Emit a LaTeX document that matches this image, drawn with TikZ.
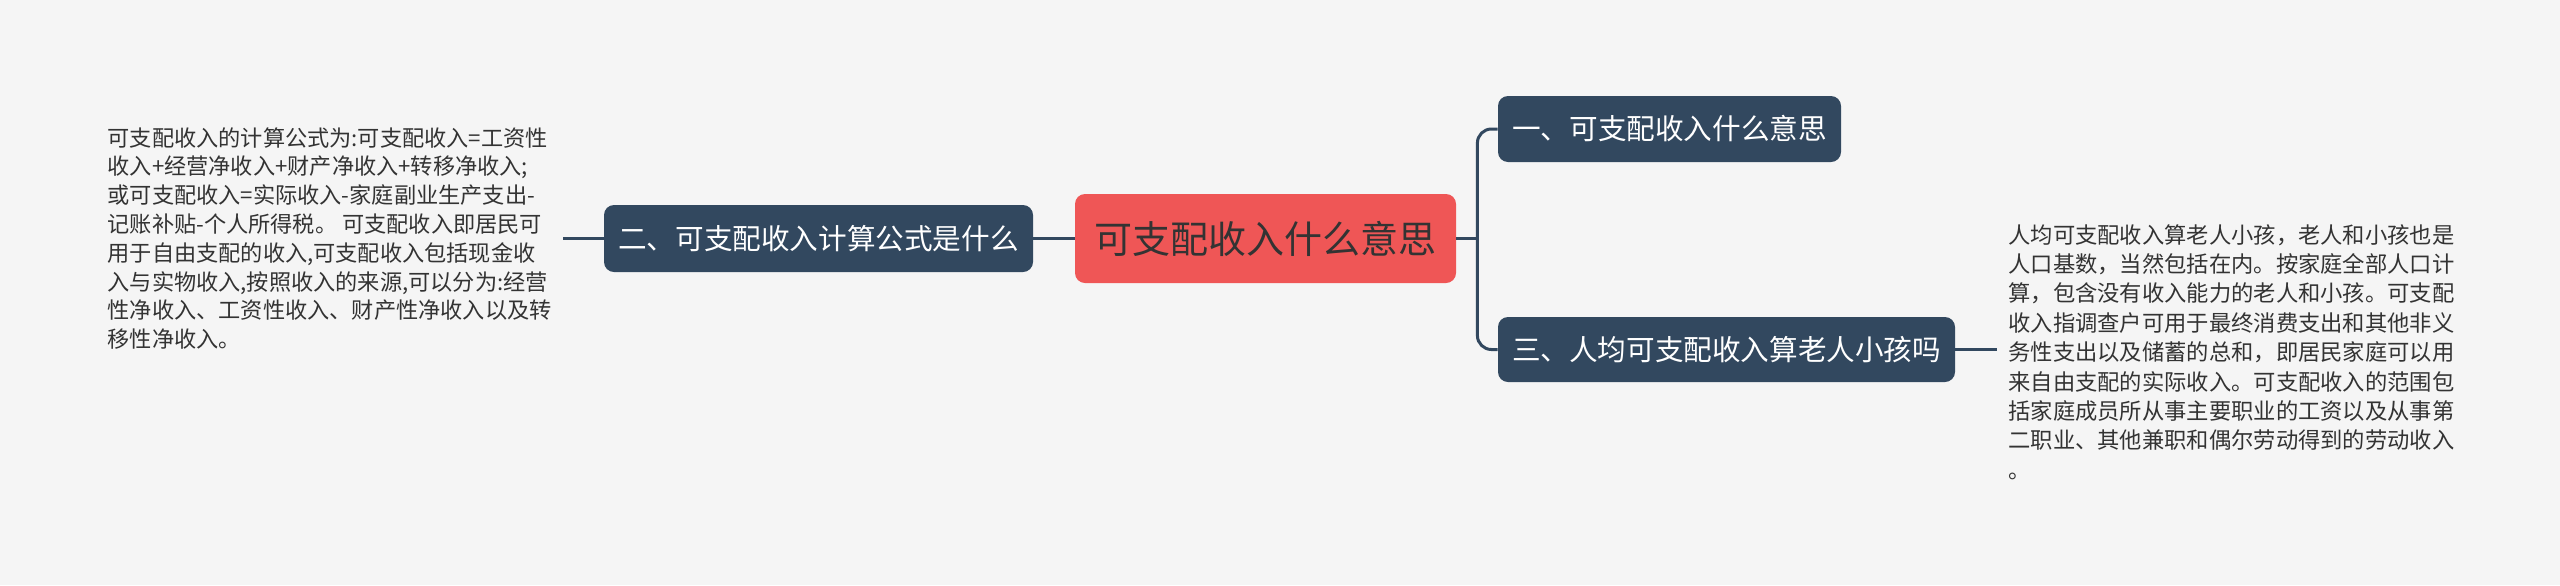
\documentclass[tikz,border=0pt]{standalone}
\usepackage{fontspec}
\setmainfont{Noto Sans CJK SC}
\usepackage{tikz}
\usetikzlibrary{positioning,calc}
\usepackage{xcolor}
\definecolor{bggrey}{HTML}{F5F5F5}
\definecolor{slate}{HTML}{32485F}
\definecolor{rootred}{HTML}{EF5656}
\definecolor{txtdark}{HTML}{333333}

\begin{document}
\begin{tikzpicture}[x=0.5pt,y=-0.5pt,
  topic/.style={fill=slate,rounded corners=5pt,text=white,inner sep=0pt,
    font=\fontsize{14.3pt}{17pt}\selectfont},
  rootbox/.style={fill=rootred,rounded corners=5pt,text=txtdark,inner sep=0pt,
    minimum width=190.5pt,minimum height=44.5pt,font=\fontsize{19pt}{22pt}\selectfont},
  note/.style={text=txtdark,align=left,inner sep=5.5pt},
  link/.style={draw=slate,line width=1.5pt}]
\fill[bggrey] (0,0) rectangle (2560,585);
% centre
\node[rootbox] (root) at (1265.5,238.5) {可支配收入什么意思};
% left branch
\node[topic,minimum width=214.5pt,minimum height=33.5pt] (two) at (818.5,238.5) {二、可支配收入计算公式是什么};
\node[note,anchor=east,font=\fontsize{11.1pt}{14.4pt}\selectfont] (twotxt) at (563,238.5)
  {可支配收入的计算公式为:可支配收入=工资性\\
   收入+经营净收入+财产净收入+转移净收入;\\
   或可支配收入=实际收入-家庭副业生产支出-\\
   记账补贴-个人所得税。 可支配收入即居民可\\
   用于自由支配的收入,可支配收入包括现金收\\
   入与实物收入,按照收入的来源,可以分为:经营\\
   性净收入、工资性收入、财产性净收入以及转\\
   移性净收入。};
% right branches
\node[topic,minimum width=171.5pt,minimum height=33pt] (one) at (1669.5,129) {一、可支配收入什么意思};
\node[topic,minimum width=228.5pt,minimum height=32.5pt] (three) at (1726.5,349.5) {三、人均可支配收入算老人小孩吗};
\node[note,anchor=west,font=\fontsize{11.15pt}{14.7pt}\selectfont] (threetxt) at (1997,352)
  {人均可支配收入算老人小孩，老人和小孩也是\\
   人口基数，当然包括在内。按家庭全部人口计\\
   算，包含没有收入能力的老人和小孩。可支配\\
   收入指调查户可用于最终消费支出和其他非义\\
   务性支出以及储蓄的总和，即居民家庭可以用\\
   来自由支配的实际收入。可支配收入的范围包\\
   括家庭成员所从事主要职业的工资以及从事第\\
   二职业、其他兼职和偶尔劳动得到的劳动收入\\
   。};
% connectors
\draw[link] (root.west) -- (two.east);
\draw[link] (two.west) -- (twotxt.east);
\draw[link] (root.east) -- ++(10.5pt,0) coordinate (fork);
\draw[link,rounded corners=7pt] (one.west) -| (fork) |- (three.west);
\draw[link] (three.east) -- (three.east -| threetxt.west);
\end{tikzpicture}
\end{document}
